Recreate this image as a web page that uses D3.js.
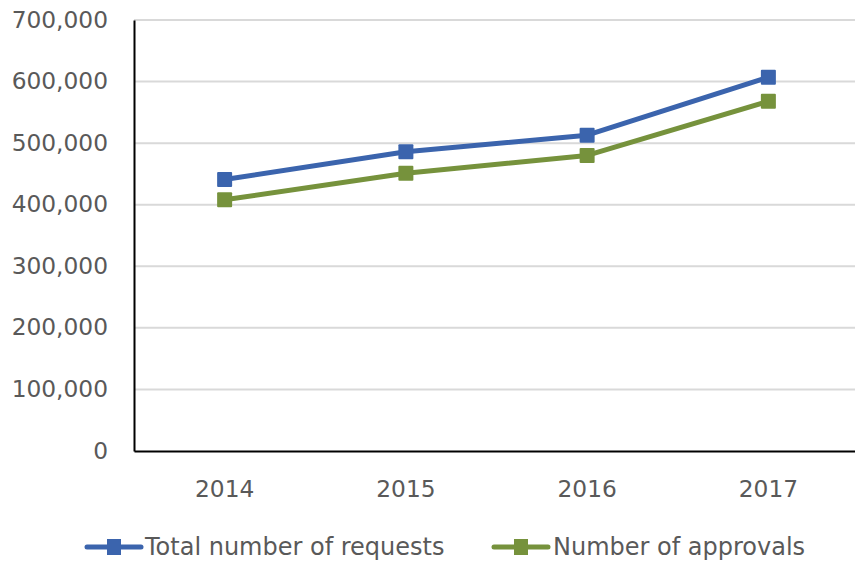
<!DOCTYPE html>
<html>
<head>
<meta charset="utf-8">
<script src="https://cdn.jsdelivr.net/npm/d3@7"></script>
<style>
  html, body { margin: 0; padding: 0; background: #fff; }
  svg { display: block; }
</style>
</head>
<body>
<svg id="chart" width="855" height="563"></svg>
<script>
const categories = ["2014", "2015", "2016", "2017"];
const totalRequests = [441000, 486000, 513000, 607000];
const approvals = [408000, 451000, 480000, 568000];
const yTicks = [0, 100000, 200000, 300000, 400000, 500000, 600000, 700000];
const seriesNames = ["Total number of requests", "Number of approvals"];
const seriesColors = ["#3B64AD", "#76923C"];

(function () {
const svg = d3.select("#chart");
const mLeft = 134, mRight = 859, mTop = 20, mBottom = 451;
const font = "DejaVu Sans";
const textColor = "#595959";

const x = d3.scaleBand().domain(categories).range([mLeft, mRight]);
const y = d3.scaleLinear().domain([0, 700000]).range([mBottom, mTop]);

// gridlines
svg.append("g").selectAll("line").data(yTicks.filter(d => d > 0)).join("line")
  .attr("x1", mLeft).attr("x2", mRight)
  .attr("y1", d => y(d)).attr("y2", d => y(d))
  .attr("stroke", "#d9d9d9").attr("stroke-width", 2);

// y axis
const yAxis = svg.append("g").attr("transform", `translate(${mLeft},0)`)
  .call(d3.axisLeft(y).tickValues(yTicks).tickSize(0).tickSizeOuter(0).tickPadding(26)
    .tickFormat(d3.format(",")));
yAxis.select(".domain").attr("stroke", "#000").attr("stroke-width", 2);
yAxis.selectAll("text").attr("font-family", font).attr("font-size", 23.3)
  .attr("fill", textColor).attr("dy", "0.3em");

// x axis
const xAxis = svg.append("g").attr("transform", `translate(0,${mBottom})`)
  .call(d3.axisBottom(x).tickSize(0).tickSizeOuter(0).tickPadding(29));
xAxis.select(".domain").attr("stroke", "#000").attr("stroke-width", 2);
xAxis.selectAll("text").attr("font-family", font).attr("font-size", 23.3)
  .attr("fill", textColor);

const series = [totalRequests, approvals];
const line = d3.line()
  .x((d, i) => x(categories[i]) + x.bandwidth() / 2)
  .y(d => y(d));

series.forEach((vals, si) => {
  svg.append("path").datum(vals)
    .attr("d", line).attr("fill", "none")
    .attr("stroke", seriesColors[si]).attr("stroke-width", 5)
    .attr("stroke-linejoin", "round").attr("stroke-linecap", "round");
  svg.append("g").selectAll("rect").data(vals).join("rect")
    .attr("x", (d, i) => x(categories[i]) + x.bandwidth() / 2 - 7.5)
    .attr("y", d => y(d) - 7.5)
    .attr("width", 15).attr("height", 15).attr("rx", 1)
    .attr("fill", seriesColors[si]);
});

// legend
const legendY = 547;
const legendItems = [{x0: 87, tx: 145}, {x0: 494, tx: 553}];
legendItems.forEach((it, i) => {
  const g = svg.append("g");
  g.append("line").attr("x1", it.x0).attr("x2", it.x0 + 54)
    .attr("y1", legendY).attr("y2", legendY)
    .attr("stroke", seriesColors[i]).attr("stroke-width", 5)
    .attr("stroke-linecap", "round");
  g.append("rect").attr("x", it.x0 + 27 - 7).attr("y", legendY - 8)
    .attr("width", 14).attr("height", 16).attr("fill", seriesColors[i]);
  g.append("text").attr("x", it.tx).attr("y", legendY).attr("dy", "0.35em")
    .attr("font-family", font).attr("font-size", 24).attr("fill", textColor)
    .text(seriesNames[i]);
});
})();
</script>
</body>
</html>
